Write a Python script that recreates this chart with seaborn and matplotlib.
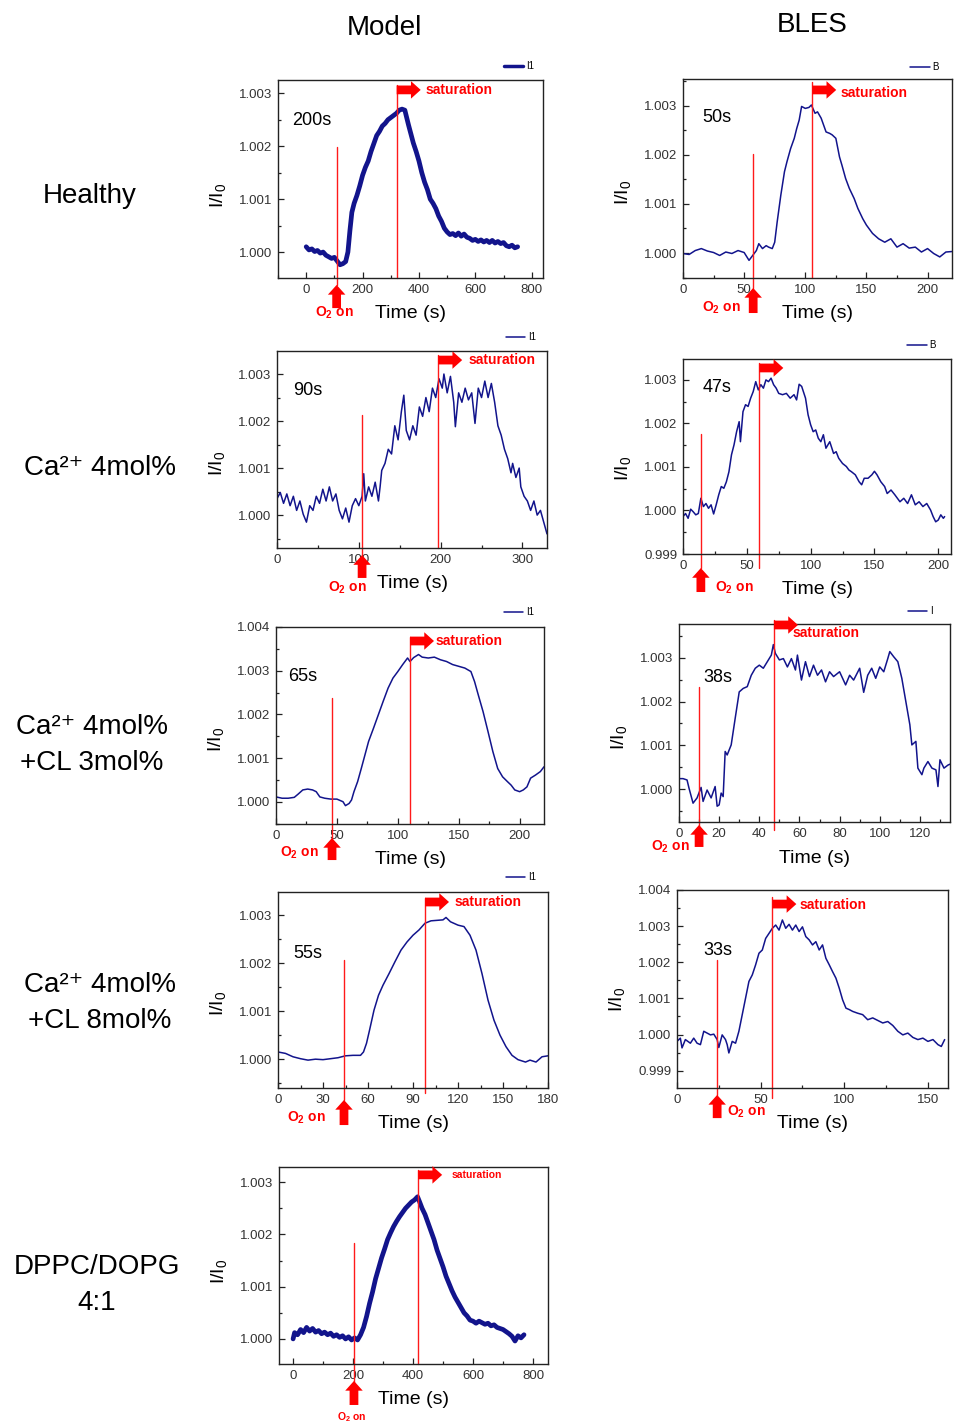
import numpy as np
import pandas as pd
import matplotlib
matplotlib.use('Agg')
import matplotlib.pyplot as plt
import matplotlib.transforms as mtransforms
from matplotlib.ticker import MultipleLocator, FormatStrFormatter
import seaborn as sns

# traces: (time s, I/I0)
healthy_model = [(0, 1.00010), (10, 1.00004), (20, 1.00006), (30, 1.00001), (40, 1.00003), (50, 0.99998),
                 (60, 1.00000), (70, 0.99994), (80, 0.99991), (90, 0.99988), (100, 0.99990), (110, 0.99983),
                 (120, 0.99976), (130, 0.99978), (140, 0.99982), (148, 1.00000), (155, 1.00040), (162, 1.00075),
                 (170, 1.00092), (180, 1.00107), (190, 1.00125), (200, 1.00145), (210, 1.00160), (220, 1.00172),
                 (230, 1.00190), (240, 1.00205), (250, 1.00220), (260, 1.00228), (270, 1.00238), (280, 1.00243),
                 (290, 1.00250), (300, 1.00254), (310, 1.00258), (320, 1.00262), (330, 1.00268), (340, 1.00270),
                 (350, 1.00268), (356, 1.00255), (363, 1.00240), (372, 1.00222), (380, 1.00206), (390, 1.00190),
                 (400, 1.00172), (410, 1.00150), (420, 1.00132), (430, 1.00118), (440, 1.00100), (450, 1.00092),
                 (460, 1.00082), (470, 1.00068), (480, 1.00058), (490, 1.00045), (500, 1.00038), (510, 1.00033),
                 (520, 1.00035), (530, 1.00031), (540, 1.00036), (550, 1.00030), (560, 1.00034), (570, 1.00028),
                 (580, 1.00026), (590, 1.00022), (600, 1.00024), (610, 1.00020), (620, 1.00023), (630, 1.00019),
                 (640, 1.00022), (650, 1.00018), (660, 1.00022), (670, 1.00017), (680, 1.00020), (690, 1.00016),
                 (700, 1.00018), (710, 1.00012), (720, 1.00010), (730, 1.00013), (740, 1.00008), (750, 1.00010)]

healthy_bles = [(0, 0.99999), (5, 0.99997), (10, 1.00005), (15, 1.00009), (20, 1.00004), (25, 1.00001),
                (30, 0.99995), (35, 1.00002), (40, 0.99999), (45, 1.00005), (50, 1.00001), (54, 0.99985),
                (57, 0.99995), (60, 1.00005), (62, 1.00019), (65, 1.00009), (68, 1.00015), (70, 1.00012),
                (73, 1.00009), (75, 1.00022), (77, 1.00063), (80, 1.00118), (83, 1.00166), (85, 1.00186),
                (88, 1.00213), (91, 1.00234), (93, 1.00254), (95, 1.00271), (97, 1.00299), (100, 1.00295),
                (103, 1.00297), (105, 1.00302), (108, 1.00285), (110, 1.00288), (113, 1.00275), (117, 1.00247),
                (120, 1.00244), (122, 1.00241), (125, 1.00234), (128, 1.00196), (130, 1.00179), (133, 1.00152),
                (136, 1.00132), (140, 1.00111), (143, 1.00091), (147, 1.00070), (150, 1.00057), (155, 1.00040),
                (160, 1.00029), (165, 1.00022), (170, 1.00029), (175, 1.00012), (180, 1.00019), (185, 1.00010),
                (190, 1.00012), (195, 1.00002), (200, 1.00009), (205, 0.99999), (210, 0.99992), (215, 1.00002),
                (220, 1.00003)]

ca4_model = [(0, 1.00035), (4, 1.00048), (8, 1.00025), (12, 1.00045), (16, 1.00020), (20, 1.00040),
             (24, 1.00010), (28, 1.00030), (32, 1.00002), (36, 0.99985), (40, 1.00020), (44, 1.00010),
             (48, 1.00040), (52, 1.00025), (56, 1.00055), (60, 1.00030), (64, 1.00060), (68, 1.00030),
             (72, 1.00045), (76, 1.00010), (80, 0.99992), (84, 1.00015), (88, 0.99985), (92, 1.00020),
             (96, 1.00035), (100, 1.00020), (104, 1.00040), (106, 1.00088), (108, 1.00030), (112, 1.00060),
             (116, 1.00040), (120, 1.00070), (124, 1.00030), (126, 1.00060), (128, 1.00095), (132, 1.00110),
             (136, 1.00140), (140, 1.00130), (144, 1.00190), (148, 1.00160), (152, 1.00220), (155, 1.00255),
             (158, 1.00180), (162, 1.00160), (166, 1.00190), (170, 1.00170), (174, 1.00230), (178, 1.00210),
             (182, 1.00250), (186, 1.00220), (190, 1.00270), (194, 1.00250), (198, 1.00290), (202, 1.00270),
             (204, 1.00300), (208, 1.00260), (212, 1.00295), (216, 1.00240), (218, 1.00188), (222, 1.00260),
             (226, 1.00240), (230, 1.00270), (234, 1.00245), (238, 1.00260), (242, 1.00195), (246, 1.00270),
             (250, 1.00250), (254, 1.00285), (258, 1.00250), (262, 1.00280), (266, 1.00240), (270, 1.00190),
             (274, 1.00170), (278, 1.00140), (282, 1.00120), (286, 1.00090), (288, 1.00110), (292, 1.00080),
             (296, 1.00100), (298, 1.00060), (302, 1.00040), (306, 1.00030), (310, 1.00010), (314, 1.00030),
             (318, 1.00000), (322, 1.00010), (326, 0.99985), (330, 0.99960)]

ca4_bles = [(0, 0.99986), (2, 0.99993), (4, 0.99982), (6, 1.00003), (8, 0.99997), (10, 0.99990), (12, 0.99993),
            (14, 1.00028), (16, 1.00009), (18, 1.00016), (20, 1.00005), (22, 1.00013), (24, 0.99992),
            (26, 1.00013), (28, 1.00036), (30, 1.00055), (32, 1.00051), (34, 1.00066), (36, 1.00089),
            (38, 1.00128), (40, 1.00151), (42, 1.00181), (44, 1.00204), (45, 1.00158), (47, 1.00227),
            (49, 1.00243), (51, 1.00239), (53, 1.00258), (55, 1.00273), (57, 1.00296), (59, 1.00277),
            (61, 1.00289), (63, 1.00281), (65, 1.00300), (67, 1.00296), (69, 1.00304), (71, 1.00289),
            (73, 1.00281), (75, 1.00269), (78, 1.00266), (81, 1.00269), (84, 1.00258), (87, 1.00266),
            (89, 1.00254), (91, 1.00290), (93, 1.00285), (96, 1.00258), (98, 1.00220), (100, 1.00197),
            (102, 1.00181), (104, 1.00185), (106, 1.00166), (108, 1.00158), (110, 1.00174), (112, 1.00143),
            (115, 1.00158), (118, 1.00131), (120, 1.00135), (122, 1.00120), (125, 1.00108), (128, 1.00101),
            (130, 1.00093), (132, 1.00089), (135, 1.00082), (138, 1.00066), (140, 1.00059), (142, 1.00074),
            (145, 1.00074), (148, 1.00082), (150, 1.00090), (152, 1.00082), (155, 1.00066), (158, 1.00055),
            (160, 1.00039), (163, 1.00047), (166, 1.00036), (170, 1.00020), (173, 1.00028), (176, 1.00016),
            (179, 1.00036), (182, 1.00013), (185, 1.00020), (188, 1.00009), (191, 1.00016), (194, 1.00001),
            (196, 0.99986), (198, 0.99974), (200, 0.99978), (202, 0.99990), (204, 0.99982), (205, 0.99986)]

cl3_model = [(0, 1.00011), (5, 1.00008), (10, 1.00008), (15, 1.00010), (18, 1.00017), (22, 1.00027),
             (26, 1.00029), (30, 1.00027), (33, 1.00023), (36, 1.00011), (40, 1.00008), (45, 1.00006),
             (50, 1.00006), (55, 1.00000), (57, 0.99991), (60, 0.99996), (62, 1.00004), (64, 1.00023),
             (67, 1.00046), (70, 1.00076), (73, 1.00107), (76, 1.00138), (80, 1.00168), (84, 1.00199),
             (88, 1.00230), (92, 1.00260), (96, 1.00283), (100, 1.00298), (104, 1.00314), (108, 1.00329),
             (110, 1.00321), (113, 1.00330), (117, 1.00337), (120, 1.00331), (125, 1.00329), (130, 1.00331),
             (135, 1.00325), (140, 1.00321), (145, 1.00314), (150, 1.00310), (155, 1.00306), (160, 1.00298),
             (163, 1.00275), (166, 1.00245), (170, 1.00206), (174, 1.00161), (178, 1.00115), (182, 1.00076),
             (186, 1.00057), (190, 1.00046), (193, 1.00038), (196, 1.00027), (200, 1.00023), (203, 1.00027),
             (206, 1.00034), (209, 1.00054), (213, 1.00061), (217, 1.00069), (220, 1.00080)]

cl3_bles = [(0, 1.00024), (2, 1.00024), (4, 1.00021), (5, 1.00002), (7, 0.99968), (9, 0.99980), (11, 1.00004),
            (12, 0.99972), (14, 0.99998), (16, 0.99980), (18, 1.00006), (19, 0.99961), (20, 0.99964),
            (21, 0.99991), (22, 0.99983), (23, 1.00086), (24, 1.00078), (26, 1.00101), (28, 1.00162),
            (30, 1.00222), (32, 1.00230), (34, 1.00234), (36, 1.00260), (38, 1.00276), (40, 1.00283),
            (42, 1.00276), (44, 1.00291), (46, 1.00306), (47, 1.00330), (48, 1.00310), (50, 1.00295),
            (52, 1.00298), (54, 1.00279), (56, 1.00298), (58, 1.00272), (59, 1.00306), (61, 1.00249),
            (63, 1.00291), (65, 1.00257), (67, 1.00283), (69, 1.00260), (71, 1.00272), (73, 1.00245),
            (75, 1.00268), (77, 1.00257), (80, 1.00268), (83, 1.00238), (85, 1.00260), (87, 1.00249),
            (90, 1.00276), (92, 1.00221), (94, 1.00260), (96, 1.00276), (98, 1.00253), (100, 1.00279),
            (102, 1.00268), (104, 1.00298), (105, 1.00314), (107, 1.00302), (109, 1.00291), (111, 1.00253),
            (113, 1.00200), (115, 1.00147), (116, 1.00101), (118, 1.00109), (119, 1.00048), (121, 1.00033),
            (122, 1.00048), (124, 1.00063), (126, 1.00048), (128, 1.00044), (129, 1.00006), (130, 1.00067),
            (132, 1.00048), (134, 1.00055), (135, 1.00057)]

cl8_model = [(0, 1.00015), (5, 1.00012), (10, 1.00005), (15, 1.00001), (20, 0.99998), (25, 1.00000),
             (30, 0.99999), (35, 1.00001), (40, 1.00003), (45, 1.00007), (50, 1.00008), (55, 1.00008),
             (57, 1.00015), (59, 1.00033), (61, 1.00060), (64, 1.00102), (67, 1.00133), (70, 1.00154),
             (74, 1.00178), (78, 1.00203), (82, 1.00227), (86, 1.00244), (90, 1.00258), (94, 1.00269),
             (98, 1.00283), (102, 1.00288), (106, 1.00289), (110, 1.00290), (112, 1.00295), (115, 1.00286),
             (120, 1.00279), (124, 1.00276), (128, 1.00258), (132, 1.00227), (136, 1.00178), (140, 1.00123),
             (144, 1.00081), (148, 1.00050), (152, 1.00026), (156, 1.00008), (160, 0.99999), (165, 0.99994),
             (168, 0.99998), (172, 0.99994), (176, 1.00005), (180, 1.00007)]

cl8_bles = [(0, 0.99981), (2, 0.99990), (3, 0.99963), (5, 0.99986), (8, 0.99976), (10, 0.99990), (12, 0.99976),
            (14, 0.99972), (16, 1.00009), (18, 1.00004), (20, 0.99999), (22, 1.00001), (24, 0.99986),
            (25, 0.99964), (27, 0.99999), (29, 0.99986), (30, 0.99972), (31, 0.99949), (33, 0.99981),
            (35, 0.99976), (37, 1.00009), (39, 1.00055), (41, 1.00101), (43, 1.00147), (45, 1.00165),
            (47, 1.00193), (49, 1.00225), (51, 1.00234), (53, 1.00266), (55, 1.00280), (57, 1.00294),
            (59, 1.00303), (61, 1.00289), (63, 1.00317), (65, 1.00294), (67, 1.00305), (69, 1.00289),
            (71, 1.00303), (73, 1.00285), (75, 1.00298), (77, 1.00271), (79, 1.00262), (81, 1.00248),
            (83, 1.00257), (85, 1.00234), (87, 1.00248), (89, 1.00211), (91, 1.00193), (93, 1.00174),
            (95, 1.00156), (97, 1.00128), (99, 1.00096), (101, 1.00073), (103, 1.00069), (105, 1.00064),
            (108, 1.00059), (111, 1.00055), (114, 1.00041), (117, 1.00046), (120, 1.00039), (123, 1.00032),
            (126, 1.00036), (129, 1.00025), (132, 1.00009), (135, 0.99999), (138, 1.00004), (141, 0.99992),
            (144, 0.99986), (147, 0.99990), (150, 0.99981), (153, 0.99986), (156, 0.99972), (158, 0.99967),
            (160, 0.99986)]

dppc_model = [(0, 1.00000), (5, 1.00012), (15, 1.00008), (25, 1.00018), (35, 1.00012), (45, 1.00022),
              (55, 1.00015), (65, 1.00020), (75, 1.00013), (85, 1.00016), (95, 1.00010), (105, 1.00013),
              (115, 1.00008), (125, 1.00011), (135, 1.00005), (145, 1.00008), (155, 1.00003), (165, 1.00006),
              (175, 1.00000), (185, 1.00004), (195, 0.99998), (205, 1.00002), (215, 0.99998), (225, 1.00008),
              (235, 1.00022), (245, 1.00043), (255, 1.00068), (265, 1.00090), (275, 1.00115), (285, 1.00135),
              (295, 1.00155), (305, 1.00172), (315, 1.00190), (325, 1.00203), (335, 1.00215), (345, 1.00225),
              (355, 1.00234), (365, 1.00242), (375, 1.00250), (385, 1.00256), (395, 1.00262), (405, 1.00266),
              (415, 1.00272), (422, 1.00262), (430, 1.00250), (440, 1.00238), (450, 1.00222), (460, 1.00206),
              (470, 1.00190), (480, 1.00170), (490, 1.00154), (500, 1.00138), (510, 1.00120), (520, 1.00106),
              (530, 1.00092), (540, 1.00080), (550, 1.00070), (560, 1.00060), (570, 1.00050), (580, 1.00044),
              (590, 1.00036), (600, 1.00034), (610, 1.00030), (620, 1.00034), (630, 1.00031), (640, 1.00028),
              (650, 1.00030), (660, 1.00025), (670, 1.00027), (680, 1.00022), (690, 1.00020), (700, 1.00018),
              (710, 1.00014), (720, 1.00010), (730, 1.00005), (740, 0.99996), (750, 1.00006), (760, 1.00002),
              (770, 1.00008)]

row_labels = ['Healthy', 'Ca²⁺ 4mol%', 'Ca²⁺ 4mol%\n+CL 3mol%',
              'Ca²⁺ 4mol%\n+CL 8mol%', 'DPPC/DOPG\n4:1']
col_labels = ['Model', 'BLES']
onset_labels = ['200s', '50s', '90s', '47s', '65s', '38s', '55s', '33s', None]
legend_labels = ['I1', 'B', 'I1', 'B', 'I1', 'I', 'I1', None, None]

W, H = 955, 1424
sns.set_theme(style='ticks')
plt.rcParams['font.family'] = ['Liberation Sans', 'DejaVu Sans']
plt.rcParams['mathtext.fontset'] = 'custom'
plt.rcParams['mathtext.rm'] = 'Liberation Sans'
plt.rcParams['mathtext.it'] = 'Liberation Sans:italic'
plt.rcParams['mathtext.bf'] = 'Liberation Sans:bold'
plt.rcParams['text.color'] = 'black'
plt.rcParams['axes.labelcolor'] = 'black'

fig = plt.figure(figsize=(W / 100, H / 100), dpi=100)

# layout of each panel: box in pixels (left, top, right, bottom), limits, ticks,
# O2 marker (t, top, line_bot, tail, tip, text_t, text_y, ha), saturation (t, bot, top, arrow_y, text_t, text_y)
panels = [
    dict(data=healthy_model, box=(278, 80, 543, 278), xlim=(-100, 840), ylim=(0.99951, 1.00325), xmaj=200, lw=3.4,
         onset=(-50, 1.00249), leg=(534, 66), ylab=0.42,
         o2=(108, 1.00199, -0.035, -0.152, -0.035, 99, -0.177, 'center'), sat=(321, 0, 0.975, 0.95, 424, 0.95), fs=10),
    dict(data=healthy_bles, box=(683, 79, 952, 278), xlim=(0, 220), ylim=(0.99949, 1.00355), xmaj=50, lw=1.1,
         onset=(16, 1.00276), leg=(939, 67), ylab=0.43,
         o2=(57.4, 1.00202, -0.05, -0.176, -0.05, 31, -0.15, 'center'), sat=(105.7, 0, 0.985, 0.945, 128.7, 0.93), fs=10),
    dict(data=ca4_model, box=(277, 351, 547, 548), xlim=(0, 330), ylim=(0.9993, 1.00349), xmaj=100, lw=1.1,
         onset=(20, 1.00266), leg=(536, 337), ylab=0.43,
         o2=(104, 1.00213, -0.046, -0.152, -0.036, 86, -0.203, 'center'), sat=(197, 0, 0.98, 0.954, 234, 0.954), fs=10),
    dict(data=ca4_bles, box=(683, 359, 951, 554), xlim=(0, 210), ylim=(0.999, 1.00348), xmaj=50, lw=1.1,
         onset=(15, 1.00282), leg=(936, 345), ylab=0.44,
         o2=(14, 1.00176, -0.072, -0.195, -0.072, 25, -0.174, 'left'), sat=(59.8, -0.072, 0.98, 0.954, None, None), fs=10),
    dict(data=cl3_model, box=(276, 627, 544, 824), xlim=(0, 220), ylim=(0.99949, 1.004), xmaj=50, lw=1.1,
         onset=(10, 1.00287), leg=(534, 612), ylab=0.43,
         o2=(46, 1.00237, -0.096, -0.183, -0.071, 19, -0.147, 'center'), sat=(110, 0, 0.95, 0.929, 131, 0.929), fs=10),
    dict(data=cl3_bles, box=(679, 624, 950, 822), xlim=(0, 135), ylim=(0.99925, 1.00377), xmaj=20, lw=1.1,
         onset=(12, 1.00255), leg=(933, 611), ylab=0.43,
         o2=(10, 1.00234, -0.081, -0.126, -0.015, -4.5, -0.124, 'center'), sat=(47.3, -0.04, 1.02, 0.995, 56.8, 0.955), fs=10),
    dict(data=cl8_model, box=(278, 892, 548, 1088), xlim=(0, 180), ylim=(0.9994, 1.00348), xmaj=30, lw=1.1,
         onset=(10, 1.00221), leg=(536, 877), ylab=0.43,
         o2=(44, 1.00206, -0.061, -0.189, -0.061, 19, -0.153, 'center'), sat=(98, -0.026, 0.97, 0.949, 118, 0.949), fs=10),
    dict(data=cl8_bles, box=(677, 890, 948, 1088), xlim=(0, 162), ylim=(0.99852, 1.004), xmaj=50, lw=1.1,
         onset=(15.5, 1.00232), leg=None, ylab=0.45,
         o2=(24, 1.00207, -0.035, -0.152, -0.035, 30, -0.121, 'left'), sat=(57, -0.05, 0.965, 0.929, 73.5, 0.924), fs=10),
    dict(data=dppc_model, box=(279, 1167, 548, 1364), xlim=(-47, 850), ylim=(0.99952, 1.00329), xmaj=200, lw=3.4,
         onset=None, leg=None, ylab=0.47,
         o2=(203, 1.00184, -0.096, -0.208, -0.086, 197, -0.269, 'center'), sat=(417, 0, 0.985, 0.96, 530, 0.96), fs=7.5),
]

navy = '#12148c'
red = '#ff1a1a'
arrow_style = 'simple,head_length=0.5,head_width=0.9,tail_width=0.45'

for i, p in enumerate(panels):
    L, T, R, B = p['box']
    ax = fig.add_axes([L / W, 1 - B / H, (R - L) / W, (B - T) / H])
    df = pd.DataFrame(p['data'], columns=['t', 'v'])
    lab = legend_labels[i]
    if lab:
        sns.lineplot(data=df, x='t', y='v', ax=ax, color=navy, lw=p['lw'], sort=False, estimator=None, label=lab)
        leg = ax.legend(loc='center right', bbox_to_anchor=(p['leg'][0] / W, 1 - p['leg'][1] / H),
                        bbox_transform=fig.transFigure, frameon=False, fontsize=7, handlelength=2.0,
                        handletextpad=0.3, borderpad=0, borderaxespad=0)
        for h in leg.get_lines():
            h.set_linewidth(min(p['lw'], 2.5))
    else:
        sns.lineplot(data=df, x='t', y='v', ax=ax, color=navy, lw=p['lw'], sort=False, estimator=None)

    ax.set_xlim(*p['xlim'])
    ax.set_ylim(*p['ylim'])
    ax.xaxis.set_major_locator(MultipleLocator(p['xmaj']))
    ax.xaxis.set_minor_locator(MultipleLocator(p['xmaj'] / 2))
    ax.yaxis.set_major_locator(MultipleLocator(0.001))
    ax.yaxis.set_minor_locator(MultipleLocator(0.0005))
    ax.yaxis.set_major_formatter(FormatStrFormatter('%.3f'))
    ax.tick_params(which='both', direction='in', top=False, right=False, labelsize=9.5,
                   labelcolor='#333333', width=0.9, color='#222222')
    ax.tick_params(which='major', length=4, pad=4)
    ax.tick_params(which='minor', length=2)
    for s in ax.spines.values():
        s.set_linewidth(1.0)
        s.set_color('#222222')

    ax.set_xlabel('Time (s)', fontsize=14)
    ax.xaxis.label.set_va('center')
    ax.xaxis.set_label_coords(0.5, -36 / (B - T))
    ax.set_ylabel('I/I$_0$', fontsize=14)
    ax.yaxis.label.set_va('center')
    ax.yaxis.set_label_coords(-60 / (R - L), p['ylab'])

    if p['onset']:
        ax.text(p['onset'][0], p['onset'][1], onset_labels[i], fontsize=13, ha='left', va='center', color='black')

    tr = ax.get_xaxis_transform()
    y0, y1 = p['ylim']
    fs = p['fs']

    # O2 on marker
    t, top, lbot, tail, tip, tx, ty, ha = p['o2']
    ax.plot([t, t], [(top - y0) / (y1 - y0), lbot], transform=tr, color=red, lw=1.0, clip_on=False)
    ax.annotate('', xy=(t, tip), xytext=(t, tail), xycoords=tr, textcoords=tr, annotation_clip=False,
                arrowprops=dict(arrowstyle=arrow_style, color='red', lw=0, shrinkA=0, shrinkB=0, mutation_scale=14))
    ax.text(tx, ty, r'O$_\mathbf{2}$ on', transform=tr, color='red', fontweight='bold', fontsize=fs,
            ha=ha, va='center', clip_on=False)

    # saturation marker
    st, sbot, stop, sy, stx, sty = p['sat']
    ax.plot([st, st], [sbot, stop], transform=tr, color=red, lw=1.0, clip_on=False)
    tip_tr = mtransforms.offset_copy(tr, fig=fig, x=24, y=0, units='dots')
    ax.annotate('', xy=(st, sy), xytext=(st, sy), xycoords=tip_tr, textcoords=tr, annotation_clip=False,
                arrowprops=dict(arrowstyle=arrow_style, color='red', lw=0, shrinkA=0, shrinkB=0, mutation_scale=14))
    if stx is not None:
        ax.text(stx, sty, 'saturation', transform=tr, color='red', fontweight='bold', fontsize=fs,
                ha='left', va='center', clip_on=False)

# column and row titles
fig.text(384 / W, 1 - 28 / H, col_labels[0], fontsize=20, ha='center', va='center')
fig.text(812 / W, 1 - 25 / H, col_labels[1], fontsize=20, ha='center', va='center')
row_pos = [(90, 196), (100, 468), (92, 745), (100, 1003), (97, 1285)]
for lab, (x, y) in zip(row_labels, row_pos):
    fig.text(x / W, 1 - y / H, lab, fontsize=20, ha='center', va='center', multialignment='center',
             linespacing=1.45)

fig.savefig('out.png', dpi=100)
